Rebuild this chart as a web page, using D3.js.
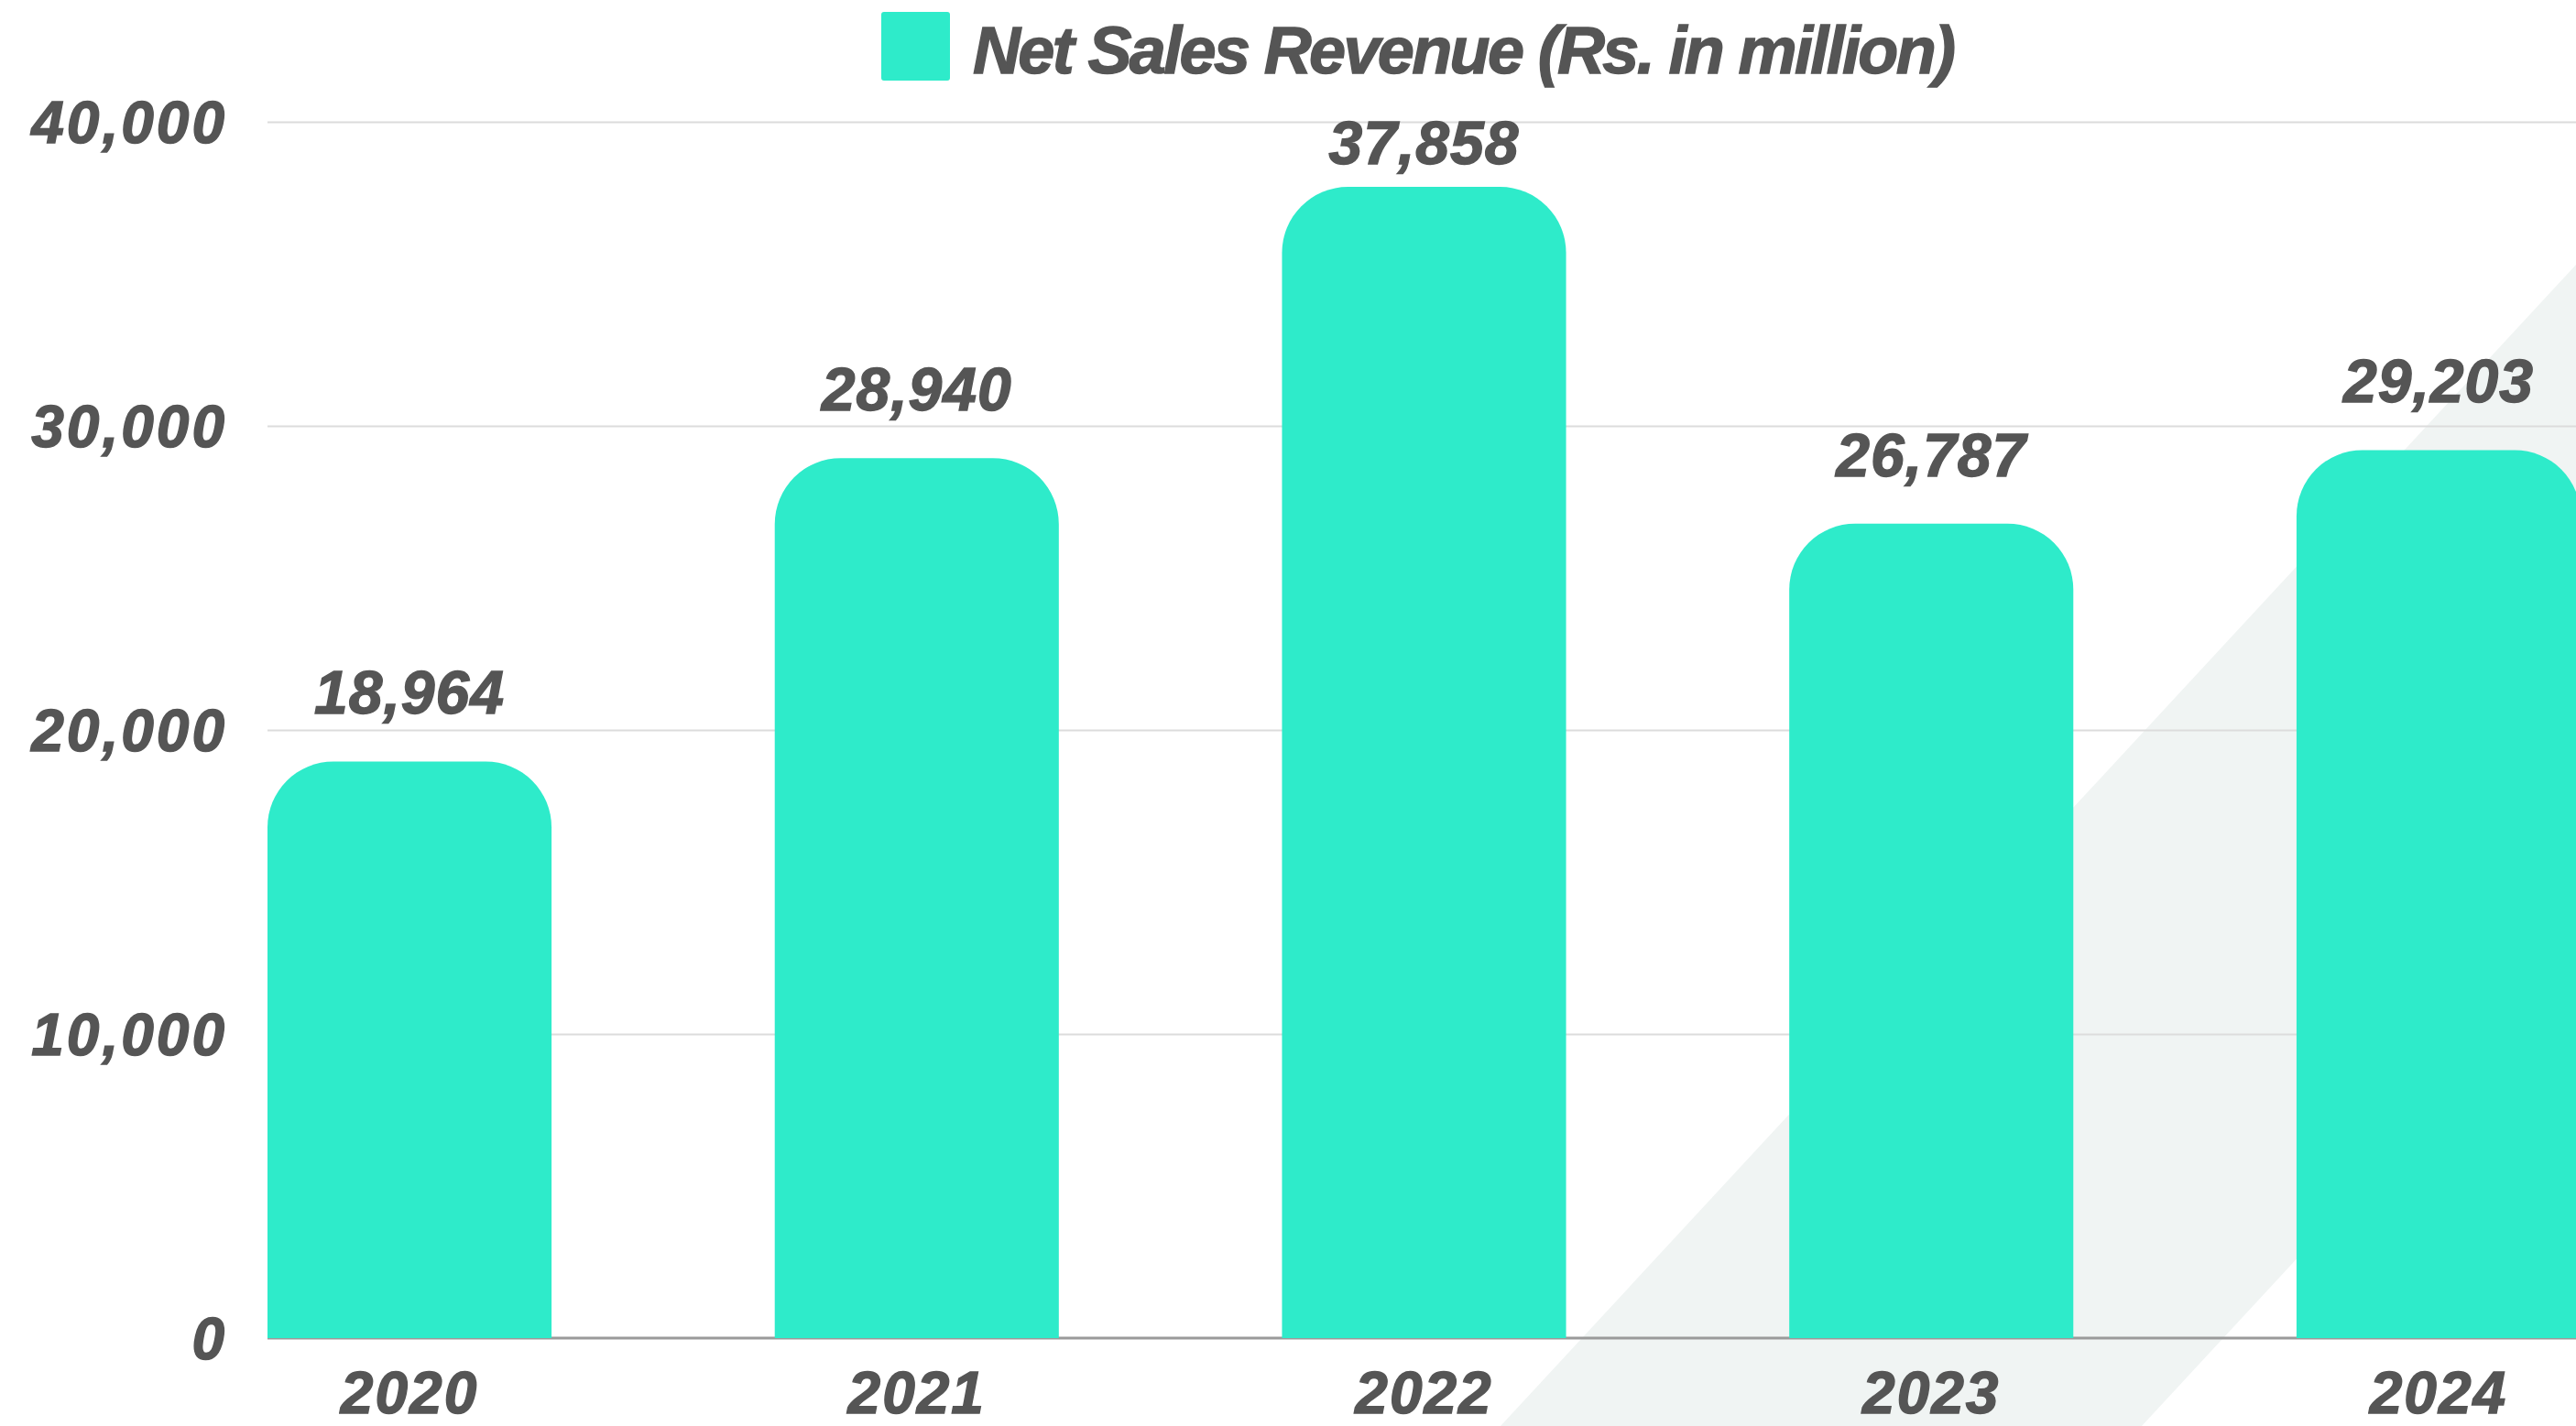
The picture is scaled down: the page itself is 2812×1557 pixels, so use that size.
<!DOCTYPE html>
<html>
<head>
<meta charset="utf-8">
<script src="https://cdn.jsdelivr.net/npm/d3@7"></script>
<style>
  html, body { margin: 0; padding: 0; background: #ffffff; overflow: hidden; }
  svg { display: block; }
  text { font-family: "Liberation Sans", Arial, sans-serif; font-weight: 700; font-style: italic; fill: #555555; stroke: #555555; stroke-width: 1.4px; }
</style>
</head>
<body>
<div id="chart"></div>
<script>
// ---- data ----
const categories = ["2020", "2021", "2022", "2023", "2024"];
const netSales = [18964, 28940, 37858, 26787, 29203];
const yTicks = [0, 10000, 20000, 30000, 40000];
const seriesName = "Net Sales Revenue (Rs. in million)";

// ---- layout ----
const W = 2812, H = 1557;
const barColor = "#2EEBCA";
const svg = d3.select("#chart").append("svg").attr("width", W).attr("height", H);

const x = d3.scaleBand().domain(categories).range([292, 2817]).paddingInner(0.44).paddingOuter(0);
const y = d3.scaleLinear().domain([0, 40000]).range([1461, 133]);

// background diagonal stripe (decorative)
const slope = 1.08;
const bx0 = 1638, bw = 700, byB = H;
const stripe = [
  [bx0, byB], [bx0 + bw, byB],
  [bx0 + bw + 1400, byB - 1400 * slope], [bx0 + 1400, byB - 1400 * slope]
];
svg.append("path").attr("d", d3.line()(stripe) + "Z").attr("fill", "#F0F4F3");

// gridlines
const grid = svg.append("g").attr("transform", "translate(292,0)")
  .call(d3.axisLeft(y).tickValues(yTicks.filter(d => d > 0)).tickSize(-(W - 292)).tickFormat(""));
grid.select(".domain").remove();
grid.selectAll(".tick line").attr("stroke", "#DCDCDC").attr("stroke-width", 2);

// base axis line
svg.append("line").attr("x1", 292).attr("x2", W).attr("y1", y(0)).attr("y2", y(0))
  .attr("stroke", "#9A9A9A").attr("stroke-width", 3);

const textStyle = sel => sel
  .style("font-family", '"Liberation Sans", Arial, sans-serif').style("font-weight", 700)
  .style("font-style", "italic").attr("fill", "#555555")
  .attr("stroke", "#555555").attr("stroke-width", 1.4);

// y axis labels
const yAxis = svg.append("g").attr("transform", "translate(248,0)")
  .call(d3.axisLeft(y).tickValues(yTicks).tickSize(0).tickPadding(0).tickFormat(d3.format(",")));
yAxis.select(".domain").remove();
yAxis.selectAll("text").attr("font-size", 64).attr("dy", "0.35em").attr("letter-spacing", 3).call(textStyle);

// x axis labels
const xAxis = svg.append("g").attr("transform", "translate(0,1543)")
  .call(d3.axisBottom(x).tickSize(0).tickPadding(0));
xAxis.select(".domain").remove();
xAxis.selectAll("text").attr("font-size", 64).attr("dy", 0).attr("y", 0).attr("letter-spacing", 2).call(textStyle);

// bars with rounded top corners
const r = 72;
function barPath(d, i) {
  const x0 = x(categories[i]), w = x.bandwidth();
  const yt = y(d), yb = y(0);
  return `M${x0},${yb}L${x0},${yt + r}A${r},${r} 0 0 1 ${x0 + r},${yt}` +
         `L${x0 + w - r},${yt}A${r},${r} 0 0 1 ${x0 + w},${yt + r}L${x0 + w},${yb}Z`;
}
svg.append("g").selectAll("path").data(netSales).join("path")
  .attr("d", barPath).attr("fill", barColor);

// value labels
svg.append("g").selectAll("text").data(netSales).join("text")
  .attr("x", (d, i) => x(categories[i]) + x.bandwidth() / 2)
  .attr("y", d => Math.max(y(d) - 52, 179))
  .attr("text-anchor", "middle").attr("font-size", 66).attr("letter-spacing", 1)
  .text(d => d3.format(",")(d));

// legend
svg.append("rect").attr("x", 962).attr("y", 13).attr("width", 75).attr("height", 75)
  .attr("rx", 3).attr("fill", barColor);
svg.append("text").attr("x", 1062).attr("y", 80).attr("font-size", 72)
  .attr("textLength", 1073).attr("lengthAdjust", "spacing").text(seriesName);
</script>
</body>
</html>
